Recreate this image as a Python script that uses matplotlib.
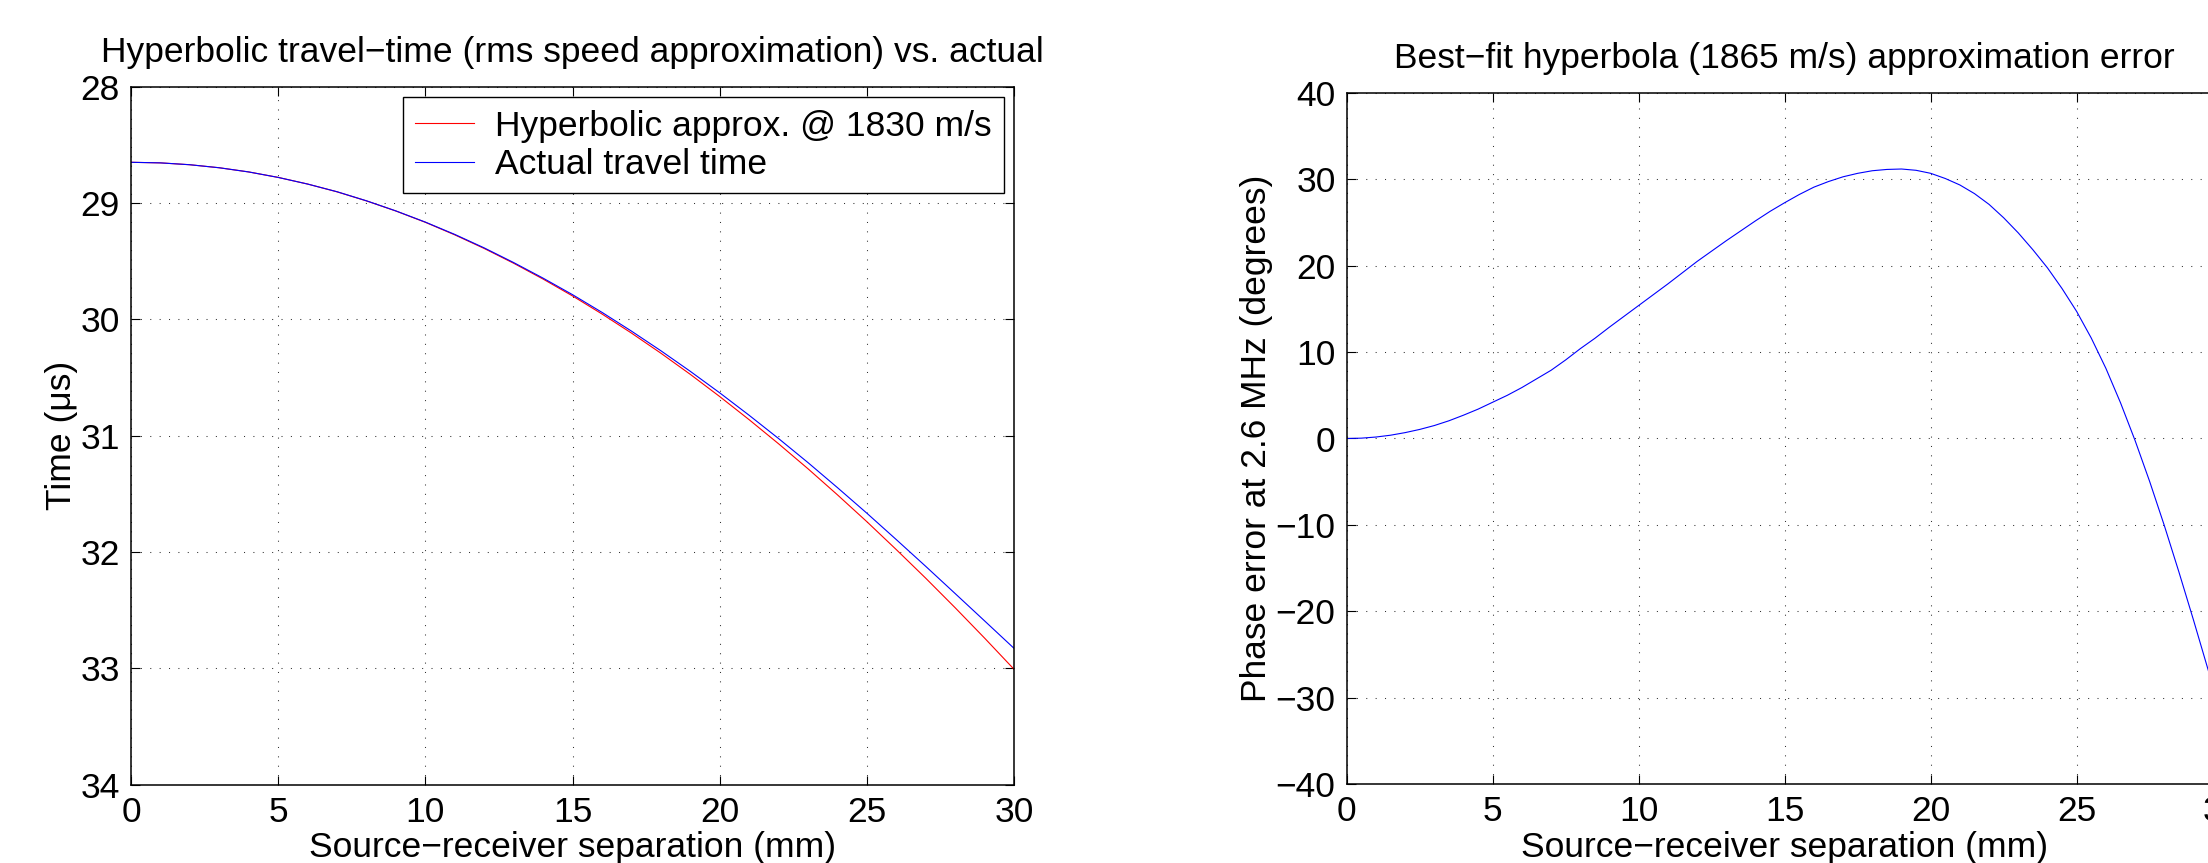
import numpy as np
import matplotlib
matplotlib.use('Agg')
import matplotlib.pyplot as plt

plt.rcParams['font.family'] = ['Liberation Sans', 'DejaVu Sans']
plt.rcParams['axes.unicode_minus'] = True

# values
sep_mm = [0, 1, 2, 3, 4, 5, 6, 7, 8, 9, 10, 11, 12, 13, 14, 15,
          16, 17, 18, 19, 20, 21, 22, 23, 24, 25, 26, 27, 28, 29, 30]

hyperbolic_us = [28.650, 28.655, 28.671, 28.697, 28.733, 28.780, 28.837,
                 28.904, 28.982, 29.069, 29.166, 29.274, 29.391, 29.518,
                 29.654, 29.799, 29.954, 30.118, 30.291, 30.473, 30.664,
                 30.863, 31.070, 31.285, 31.509, 31.740, 31.980, 32.226,
                 32.480, 32.741, 33.009]

actual_us = [28.650, 28.655, 28.671, 28.697, 28.733, 28.780, 28.837,
             28.903, 28.981, 29.068, 29.164, 29.270, 29.386, 29.512,
             29.646, 29.788, 29.940, 30.101, 30.270, 30.447, 30.632,
             30.825, 31.025, 31.232, 31.447, 31.667, 31.894, 32.124,
             32.358, 32.593, 32.829]

err_mm = [0, 0.5, 1, 1.5, 2, 2.5, 3, 3.5, 4, 4.5, 5, 5.5, 6, 6.5, 7, 7.5,
          8, 8.5, 9, 9.5, 10, 10.5, 11, 11.5, 12, 12.5, 13, 13.5, 14, 14.5,
          15, 15.5, 16, 16.5, 17, 17.5, 18, 18.5, 19, 19.5, 20, 20.5, 21,
          21.5, 22, 22.5, 23, 23.5, 24, 24.5, 25, 25.5, 26, 26.5, 27, 27.5,
          28, 28.5, 29, 29.5, 30]
phase_err_deg = [0, 0.04, 0.17, 0.38, 0.68, 1.05, 1.5, 2.05, 2.7, 3.4, 4.2,
                 5.0, 5.9, 6.9, 7.9, 9.1, 10.4, 11.6, 12.9, 14.15, 15.4,
                 16.65, 17.9, 19.2, 20.5, 21.7, 22.9, 24.05, 25.2, 26.3,
                 27.3, 28.25, 29.1, 29.75, 30.3, 30.7, 31.0, 31.15, 31.2,
                 31.05, 30.7, 30.1, 29.35, 28.35, 27.1, 25.55, 23.8, 21.85,
                 19.75, 17.35, 14.7, 11.62, 8.12, 4.14, -0.24, -4.99,
                 -10.07, -15.45, -21.02, -26.77, -32.67]

xticks = [0, 5, 10, 15, 20, 25, 30]
left_yticks = [28, 29, 30, 31, 32, 33, 34]
right_yticks = [-40, -30, -20, -10, 0, 10, 20, 30, 40]

FS = 25.5
W, H = 2208, 863
fig = plt.figure(figsize=(W / 100, H / 100), dpi=100)

ax1 = fig.add_axes([131 / W, (H - 784.5) / H, 883 / W, 697.8 / H])
ax2 = fig.add_axes([1346.7 / W, (H - 784) / H, 876 / W, 691 / H])


def style(ax):
    ax.grid(True, color='0.2', linestyle=(0, (1, 8)), linewidth=0.75)
    ax.tick_params(direction='in', length=6.5, width=0.8, top=True,
                   right=True, labelsize=FS, pad=8, colors='black')
    for s in ax.spines.values():
        s.set_linewidth(1.1)
    ax.set_xlim(0, 30)
    ax.set_xticks(xticks)
    ax.set_xlabel('Source\u2212receiver separation (mm)', fontsize=FS,
                  labelpad=2)


ax1.plot(sep_mm, hyperbolic_us, color='red', linewidth=0.8,
         label='Hyperbolic approx. @ 1830 m/s')
ax1.plot(sep_mm, actual_us, color='blue', linewidth=0.8,
         label='Actual travel time')
style(ax1)
ax1.set_ylim(34, 28)
ax1.set_yticks(left_yticks)
ax1.set_ylabel('Time (\u03bcs)', fontsize=FS, labelpad=2)
ax1.set_title('Hyperbolic travel\u2212time (rms speed approximation) vs. actual',
              fontsize=FS, pad=18)
leg = ax1.legend(loc='upper right', bbox_to_anchor=(1 - 10 / 883, 1 - 10.6 / 697.8),
                 borderaxespad=0, fontsize=FS, frameon=True, fancybox=False,
                 edgecolor='black', framealpha=1, handlelength=1.65,
                 handletextpad=0.6, borderpad=0.35, labelspacing=0.15)
leg.get_frame().set_linewidth(1.0)

ax2.plot(err_mm, phase_err_deg, color='blue', linewidth=0.8)
style(ax2)
ax2.set_ylim(-40, 40)
ax2.set_yticks(right_yticks)
ax2.set_ylabel('Phase error at 2.6 MHz (degrees)', fontsize=FS, labelpad=2)
ax2.set_title('Best\u2212fit hyperbola (1865 m/s) approximation error',
              fontsize=FS, pad=18)

fig.savefig('out.png', dpi=100)
